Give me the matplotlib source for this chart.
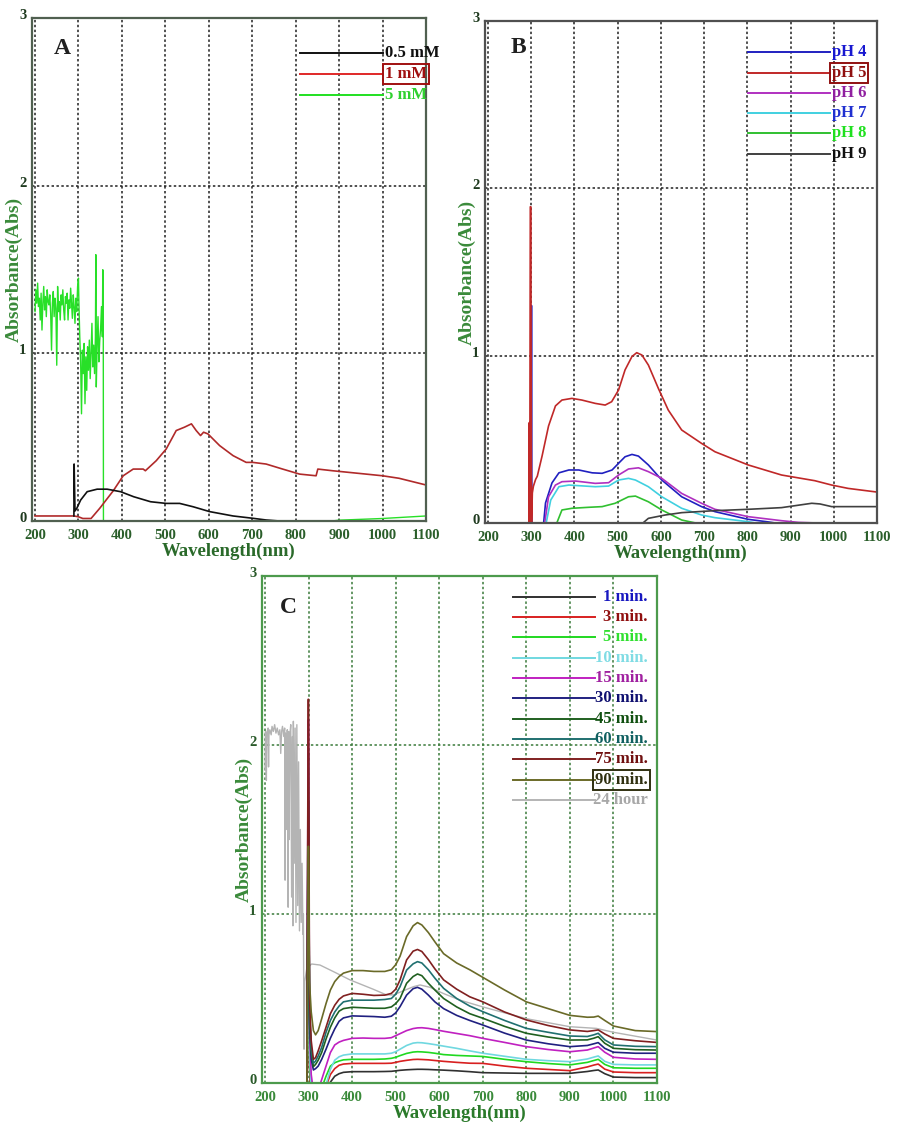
import numpy as np
import matplotlib
matplotlib.use('Agg')
import matplotlib.pyplot as plt
from matplotlib.lines import Line2D
from matplotlib.transforms import ScaledTranslation

plt.rcParams['font.family'] = ['Liberation Serif', 'DejaVu Serif']
plt.rcParams['font.weight'] = 'bold'

# ---------------- panel A : concentration ----------------
A_green_noise = [1.25, 1.38, 1.30, 1.42, 1.28, 1.33, 1.20, 1.36, 1.14, 1.30,
                 1.40, 1.26, 1.34, 1.22, 1.38, 1.31, 1.29, 1.35, 1.24, 1.02,
                 1.30, 1.37, 1.22, 1.33, 1.27, 0.93, 1.40, 1.25, 1.31, 1.20,
                 1.35, 1.29, 1.38, 1.26, 1.20, 1.34, 1.30, 1.36, 1.20, 1.32,
                 1.27, 1.39, 1.30, 1.21, 1.35, 1.28, 1.18, 1.33, 1.25, 1.40, 1.45]
A_green_x2 = [301, 303, 305, 307, 309, 311, 313, 315, 317, 319, 321, 323, 325, 327,
              329, 331, 333, 335, 337, 339, 340, 341, 343, 345, 347, 349, 351, 353,
              355, 356, 357, 357.5, 850, 900, 1000, 1100]
A_green_y2 = [1.30, 1.10, 0.95, 0.64, 1.02, 0.88, 1.06, 0.70, 0.98, 0.78, 1.04, 0.90,
              1.08, 0.85, 1.00, 1.18, 0.92, 1.05, 0.88, 1.10, 1.59, 0.80, 1.05, 1.22,
              0.95, 1.08, 1.15, 1.28, 1.10, 1.50, 1.45, -0.01, -0.01, 0.005, 0.015, 0.03]

A_red_x = [200, 290, 300, 310, 329, 349, 380, 403, 426, 449, 454, 479, 502, 525, 544,
           560, 571, 581, 588, 598, 625, 656, 686, 701, 732, 770, 809, 847, 851, 885,
           962, 1000, 1038, 1100]
A_red_y = [0.03, 0.03, 0.025, 0.015, 0.015, 0.076, 0.18, 0.27, 0.31, 0.31, 0.30, 0.36,
           0.43, 0.54, 0.56, 0.58, 0.54, 0.51, 0.53, 0.52, 0.45, 0.39, 0.35, 0.35, 0.34,
           0.31, 0.28, 0.27, 0.31, 0.30, 0.28, 0.27, 0.255, 0.215]

A_black_x = [289.5, 290, 292, 296, 305, 320, 343, 366, 397, 427, 466, 502, 533, 564,
             602, 656, 702, 732, 763, 840]
A_black_y = [0.03, 0.34, 0.06, 0.075, 0.125, 0.175, 0.19, 0.19, 0.175, 0.145, 0.115,
             0.105, 0.105, 0.085, 0.056, 0.03, 0.016, 0.006, 0.0, 0.0]

A_labels = ['0.5 mM', '1 mM', '5 mM']
A_line_colors = ['#101010', '#e02828', '#20e020']
A_text_colors = ['#101010', '#a01010', '#30d030']

# ---------------- panel B : pH ----------------
B_labels = ['pH 4', 'pH 5', 'pH 6', 'pH 7', 'pH 8', 'pH 9']
B_line_colors = ['#2020c0', '#c02828', '#b030c0', '#40d0e0', '#30c030', '#404040']
B_text_colors = ['#1818d0', '#901010', '#9020a0', '#2030d0', '#20e020', '#101010']

B_x = {
    'pH 4': [299.5, 300.5, 301.5, 325, 333, 348, 364, 387, 410, 441, 464, 487, 502,
             517, 533, 548, 571, 602, 648, 694, 725, 802, 850, 890],
    'pH 5': [294.5, 295.5, 296.5, 297.8, 299.0, 300.5, 302.5, 305, 310, 314, 325, 340,
             356, 371, 394, 417, 448, 471, 486, 502, 517, 533, 544, 556, 571, 594, 617,
             648, 694, 725, 802, 879, 956, 995, 1033, 1100],
    'pH 6': [330, 340, 356, 371, 402, 448, 479, 502, 525, 548, 571, 602, 648, 694, 725,
             802, 879, 918, 964],
    'pH 7': [333, 345, 364, 387, 448, 479, 502, 525, 541, 571, 602, 648, 694, 725, 802,
             830],
    'pH 8': [356, 371, 394, 433, 464, 494, 525, 541, 571, 602, 648, 690],
    'pH 9': [556, 571, 610, 648, 725, 802, 879, 949, 968, 995, 1100],
}
B_y = {
    'pH 4': [-0.1, 1.30, -0.1, -0.1, 0.12, 0.24, 0.30, 0.317, 0.317, 0.30, 0.297, 0.317,
             0.357, 0.396, 0.41, 0.40, 0.347, 0.257, 0.157, 0.098, 0.068, 0.022, 0.006,
             -0.01],
    'pH 5': [-0.05, 0.6, -0.05, 1.89, 1.89, -0.05, 0.18, 0.22, 0.26, 0.28, 0.40, 0.58,
             0.70, 0.735, 0.745, 0.735, 0.715, 0.705, 0.725, 0.795, 0.915, 0.995, 1.018,
             1.004, 0.944, 0.805, 0.675, 0.556, 0.476, 0.426, 0.347, 0.287, 0.253, 0.227,
             0.207, 0.185],
    'pH 6': [-0.02, 0.157, 0.227, 0.247, 0.251, 0.237, 0.241, 0.287, 0.323, 0.33, 0.307,
             0.267, 0.177, 0.118, 0.082, 0.038, 0.014, 0.004, 0.0],
    'pH 7': [-0.02, 0.137, 0.217, 0.227, 0.217, 0.221, 0.257, 0.267, 0.257, 0.217, 0.157,
             0.088, 0.048, 0.032, 0.008, -0.005],
    'pH 8': [-0.02, 0.078, 0.088, 0.094, 0.098, 0.118, 0.157, 0.161, 0.127, 0.078, 0.018,
             -0.005],
    'pH 9': [-0.005, 0.028, 0.048, 0.062, 0.074, 0.082, 0.092, 0.118, 0.114, 0.098, 0.098],
}

# ---------------- panel C : time ----------------
C_labels = ['1 min.', '3 min.', '5 min.', '10 min.', '15 min.', '30 min.', '45 min.',
            '60 min.', '75 min.', '90 min.', '24 hour']
C_line_colors = ['#303030', '#d82020', '#20d820', '#70d8e0', '#c020c0', '#202080',
                 '#206020', '#207070', '#802020', '#6a6a28', '#b4b4b4']
C_text_colors = ['#1818c0', '#901010', '#30e030', '#80dce4', '#a020a0', '#101070',
                 '#105010', '#106060', '#701010', '#303010', '#a8a8a8']

C_head_x = [296, 299, 300, 302, 306, 311, 316, 322]
C_grid_x = [330, 340, 350, 360, 370, 380, 400, 425, 450, 475, 490, 500, 510, 525, 540,
            550, 560, 575, 590, 610, 640, 670, 700, 750, 800, 850, 900, 940, 955, 965,
            980, 1000, 1050, 1100]
C_head = {
    '1 min.':  [-0.05, 1.95, 1.95, 0.10, -0.10, -0.15, -0.15, -0.12],
    '3 min.':  [-0.05, 1.60, 1.60, 0.10, -0.10, -0.15, -0.15, -0.10],
    '5 min.':  [-0.05, 1.20, 1.20, 0.15, -0.05, -0.10, -0.10, -0.08],
    '10 min.': [-0.05, 1.90, 1.90, 0.20, -0.05, -0.10, -0.10, -0.08],
    '15 min.': [-0.05, 2.15, 2.15, 0.30, 0.05, -0.05, -0.05, -0.04],
    '30 min.': [-0.05, 1.67, 1.67, 0.35, 0.14, 0.077, 0.085, 0.10],
    '45 min.': [-0.05, 1.40, 1.40, 0.40, 0.18, 0.097, 0.11, 0.135],
    '60 min.': [-0.05, 1.30, 1.30, 0.45, 0.20, 0.116, 0.13, 0.16],
    '75 min.': [-0.05, 2.27, 2.27, 0.50, 0.25, 0.14, 0.15, 0.19],
    '90 min.': [-0.05, 1.40, 1.40, 0.60, 0.42, 0.31, 0.285, 0.31],
}
C_body = {
    '1 min.':  [-0.08, -0.05, 0.005, 0.04, 0.055, 0.063, 0.067, 0.067, 0.067, 0.068,
                0.069, 0.072, 0.075, 0.078, 0.08, 0.081, 0.081, 0.08, 0.078, 0.076,
                0.072, 0.067, 0.061, 0.059, 0.057, 0.057, 0.057, 0.068, 0.074, 0.077,
                0.055, 0.035, 0.032, 0.032],
    '3 min.':  [-0.05, -0.02, 0.05, 0.085, 0.105, 0.112, 0.116, 0.116, 0.116, 0.116,
                0.117, 0.122, 0.128, 0.134, 0.139, 0.14, 0.139, 0.137, 0.133, 0.128,
                0.122, 0.117, 0.116, 0.10, 0.087, 0.08, 0.073, 0.095, 0.106, 0.112,
                0.082, 0.065, 0.061, 0.061],
    '5 min.':  [-0.03, 0.04, 0.10, 0.12, 0.13, 0.137, 0.14, 0.14, 0.14, 0.142, 0.146,
                0.152, 0.162, 0.175, 0.183, 0.185, 0.184, 0.181, 0.176, 0.168, 0.163,
                0.16, 0.157, 0.14, 0.126, 0.115, 0.107, 0.122, 0.133, 0.14, 0.11, 0.09,
                0.087, 0.087],
    '10 min.': [-0.05, -0.01, 0.08, 0.135, 0.155, 0.165, 0.172, 0.172, 0.172, 0.172,
                0.176, 0.185, 0.20, 0.222, 0.236, 0.239, 0.238, 0.233, 0.227, 0.218,
                0.205, 0.19, 0.176, 0.158, 0.14, 0.132, 0.126, 0.142, 0.153, 0.16,
                0.128, 0.11, 0.107, 0.107],
    '15 min.': [0.02, 0.10, 0.18, 0.225, 0.242, 0.252, 0.264, 0.266, 0.264, 0.264,
                0.268, 0.28, 0.292, 0.31, 0.322, 0.326, 0.327, 0.323, 0.316, 0.306,
                0.293, 0.28, 0.264, 0.24, 0.215, 0.198, 0.185, 0.195, 0.207, 0.215,
                0.182, 0.152, 0.142, 0.14],
    '30 min.': [0.14, 0.20, 0.265, 0.32, 0.365, 0.385, 0.397, 0.395, 0.393, 0.389,
                0.395, 0.415, 0.452, 0.52, 0.558, 0.566, 0.555, 0.52, 0.48, 0.44, 0.40,
                0.37, 0.343, 0.295, 0.254, 0.232, 0.215, 0.222, 0.232, 0.239, 0.205,
                0.182, 0.176, 0.176],
    '45 min.': [0.18, 0.26, 0.33, 0.385, 0.425, 0.44, 0.448, 0.445, 0.442, 0.442, 0.45,
                0.47, 0.50, 0.59, 0.63, 0.645, 0.635, 0.59, 0.55, 0.50, 0.45, 0.41,
                0.383, 0.335, 0.294, 0.272, 0.254, 0.255, 0.265, 0.274, 0.235, 0.205,
                0.197, 0.195],
    '60 min.': [0.21, 0.30, 0.37, 0.42, 0.455, 0.48, 0.49, 0.49, 0.49, 0.494, 0.50,
                0.525, 0.57, 0.668, 0.705, 0.718, 0.71, 0.67, 0.62, 0.56, 0.50, 0.455,
                0.422, 0.37, 0.323, 0.30, 0.278, 0.275, 0.285, 0.294, 0.255, 0.225,
                0.217, 0.215],
    '75 min.': [0.25, 0.33, 0.41, 0.46, 0.495, 0.515, 0.53, 0.525, 0.518, 0.52, 0.53,
                0.555, 0.61, 0.728, 0.78, 0.79, 0.778, 0.73, 0.675, 0.61, 0.555, 0.51,
                0.48, 0.42, 0.373, 0.34, 0.314, 0.305, 0.31, 0.314, 0.29, 0.264, 0.25,
                0.24],
    '90 min.': [0.38, 0.47, 0.55, 0.60, 0.63, 0.65, 0.665, 0.665, 0.66, 0.66, 0.67,
                0.70, 0.75, 0.866, 0.93, 0.949, 0.935, 0.89, 0.835, 0.765, 0.71, 0.67,
                0.625, 0.55, 0.48, 0.44, 0.40, 0.389, 0.39, 0.396, 0.37, 0.337, 0.31,
                0.304],
}
C_day_x = [200, 201, 203, 204, 207, 208, 209, 211, 214, 216, 219, 222, 225, 228, 231,
           234, 236, 238, 240, 243, 245, 246, 247, 249, 251, 253, 254, 255, 257, 259,
           261, 263, 264, 265, 267, 269, 271, 273, 275, 277, 279, 281, 283, 285, 287,
           288, 289.5, 291, 296, 300, 307, 326, 357, 395, 449, 479, 495, 518, 541, 556,
           579, 609, 648, 700, 801, 900, 961, 1000, 1100]
C_day_y = [1.85, 2.08, 1.79, 2.07, 2.10, 1.87, 2.06, 2.09, 2.06, 2.11, 2.08, 2.12, 2.07,
           2.10, 2.06, 2.09, 1.95, 2.08, 2.11, 2.05, 2.10, 1.20, 2.07, 1.50, 2.09, 1.04,
           2.08, 1.44, 2.06, 2.12, 1.10, 2.05, 0.93, 2.14, 1.30, 2.10, 0.95, 2.12, 1.05,
           1.90, 0.90, 1.50, 0.95, 1.30, 0.88, 1.00, 0.20, 0.60, 0.68, 0.688, 0.704,
           0.698, 0.659, 0.61, 0.554, 0.521, 0.521, 0.546, 0.57, 0.58, 0.566, 0.53,
           0.49, 0.45, 0.38, 0.333, 0.323, 0.30, 0.254]

SERIF = dict(family=['Liberation Serif', 'DejaVu Serif'], weight='bold')


def style_axes(ax, frame, grid, tick_x, tick_y, label_color, ylab_color):
    ax.set_xlim(193, 1100)
    ax.set_ylim(0, 3)
    ax.set_xticks(range(200, 1101, 100))
    ax.set_yticks([0, 1, 2, 3])
    ax.tick_params(axis='x', length=0, pad=6, labelsize=10.5)
    ax.tick_params(axis='y', length=0, pad=4, labelsize=10.5)
    for lab in ax.get_xticklabels():
        lab.set_color(tick_x)
        lab.set_fontweight('bold')
    lift = ScaledTranslation(0, 4 / 100, ax.figure.dpi_scale_trans)
    for lab in ax.get_yticklabels():
        lab.set_color(tick_y)
        lab.set_fontweight('bold')
        lab.set_transform(lab.get_transform() + lift)
    for s in ax.spines.values():
        s.set_color(frame)
        s.set_linewidth(1.6)
        s.set_zorder(5)
    ax.grid(True, color=grid, linestyle=(0, (1.6, 1.6)), linewidth=1.1)
    ax.set_axisbelow(True)
    ax.set_xlabel('Wavelength(nm)', fontsize=13.5, color=label_color,
                  labelpad=0, **SERIF)
    ax.set_ylabel('Absorbance(Abs)', fontsize=14, color=ylab_color,
                  labelpad=-3, **SERIF)


def draw_key(ax, labels, lcolors, tcolors, x0, x1, xt, ytop, step, boxed,
             box_color, ha='left'):
    for i, lab in enumerate(labels):
        y = ytop - i * step
        ax.add_line(Line2D([x0, x1], [y, y], color=lcolors[i], lw=1.4,
                           transform=ax.transAxes, zorder=6))
        kw = {}
        if lab == boxed:
            kw['bbox'] = dict(boxstyle='square,pad=0.12', fc='none',
                              ec=box_color, lw=1.4)
        ax.text(xt, y, lab, transform=ax.transAxes, color=tcolors[i],
                fontsize=12, ha=ha, va='center', zorder=7, **SERIF, **kw)


fig = plt.figure(figsize=(9.01, 11.26), dpi=100)

# panel A
axA = fig.add_axes([0.0355, 0.5373, 0.4373, 0.4463])
style_axes(axA, '#506050', '#202020', '#2a5e2a', '#1f3a1f', '#2a6a2a', '#3a8a3a')
gx = list(200 + 2 * np.arange(len(A_green_noise))) + A_green_x2
gy = A_green_noise + A_green_y2
axA.plot(gx, gy, color='#28e028', lw=1.0, zorder=3)
axA.plot(A_red_x, A_red_y, color='#b02a2a', lw=1.2, zorder=3)
axA.plot(A_black_x, A_black_y, color='#101010', lw=1.2, zorder=3)
draw_key(axA, A_labels, A_line_colors, A_text_colors, 0.68, 0.89, 0.895,
         0.932, 0.042, '1 mM', '#a01010')
axA.text(0.055, 0.94, 'A', transform=axA.transAxes, fontsize=17,
         color='#202020', va='center', **SERIF)

# panel B
axB = fig.add_axes([0.5383, 0.5355, 0.4351, 0.4458])
style_axes(axB, '#505050', '#202020', '#2a5e2a', '#1f3a1f', '#2a6a2a', '#3a8a3a')
for lab, col in zip(B_labels, B_line_colors):
    axB.plot(B_x[lab], B_y[lab], color=col, lw=1.2, zorder=3)
draw_key(axB, B_labels, B_line_colors, B_text_colors, 0.67, 0.88, 0.885,
         0.938, 0.0405, 'pH 5', '#901010')
axB.text(0.065, 0.948, 'B', transform=axB.transAxes, fontsize=17,
         color='#202020', va='center', **SERIF)

# panel C
axC = fig.add_axes([0.2908, 0.0382, 0.4384, 0.4503])
style_axes(axC, '#4c9a4c', '#3a7a3a', '#3a8a3a', '#2a5a2a', '#2a7a2a', '#3a8a3a')
axC.plot(C_day_x, C_day_y, color=C_line_colors[-1], lw=1.0, zorder=3)
for lab, col in zip(C_labels[:-1], C_line_colors[:-1]):
    axC.plot(C_head_x + C_grid_x, C_head[lab] + C_body[lab], color=col, lw=1.2,
             zorder=3)
draw_key(axC, C_labels, C_line_colors, C_text_colors, 0.635, 0.843, 0.977,
         0.959, 0.0401, '90 min.', '#303010', ha='right')
axC.text(0.045, 0.937, 'C', transform=axC.transAxes, fontsize=17,
         color='#202020', va='center', **SERIF)

fig.savefig('out.png', dpi=100)
